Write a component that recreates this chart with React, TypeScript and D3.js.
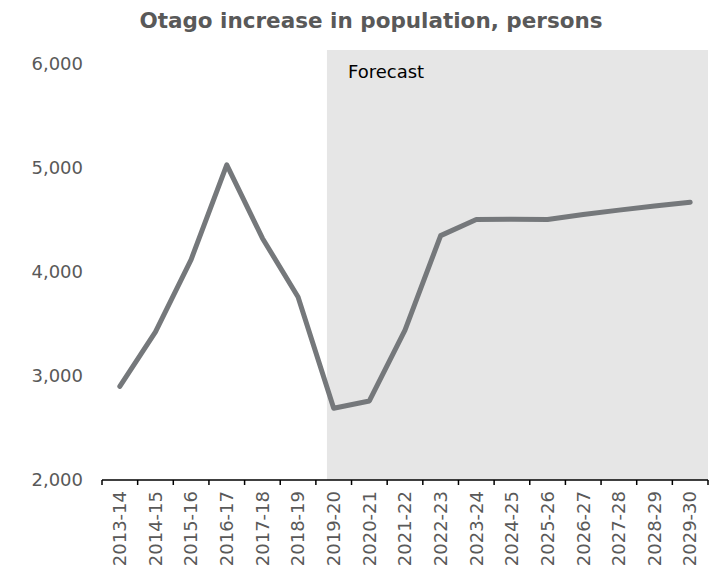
import React, { useEffect, useRef } from 'react';
import * as d3 from 'd3';

// financial years, June years
const years = ['2013-14', '2014-15', '2015-16', '2016-17', '2017-18', '2018-19', '2019-20', '2020-21',
  '2021-22', '2022-23', '2023-24', '2024-25', '2025-26', '2026-27', '2027-28', '2028-29', '2029-30'];
const increase = [2900, 3425, 4120, 5030, 4325, 3760, 2690, 2760,
  3440, 4350, 4505, 4508, 4504, 4552, 4595, 4635, 4670];
const yTicks = [2000, 3000, 4000, 5000, 6000];
const forecastFrom = '2019-20';

const W = 722, H = 571;
const FONT = '"DejaVu Sans", Verdana, sans-serif';

export default function App() {
  const ref = useRef<SVGSVGElement>(null);

  useEffect(() => {
    const svg = d3.select(ref.current);
    svg.selectAll('*').remove();

    const x = d3.scaleBand().domain(years).range([102, 708]);
    const y = d3.scaleLinear().domain([2000, 6000]).range([480, 64]);
    const bw = x.bandwidth();

    // forecast shading
    const sx = x(forecastFrom)! + bw * 0.31;
    svg.append('rect')
      .attr('x', sx)
      .attr('y', y(6000) - 14)
      .attr('width', x.range()[1] - sx)
      .attr('height', y(2000) - y(6000) + 14)
      .attr('fill', '#e6e6e6');

    svg.append('text')
      .attr('x', 348).attr('y', 78)
      .attr('font-family', FONT).attr('font-size', 18)
      .attr('fill', '#000')
      .text('Forecast');

    // title
    svg.append('text')
      .attr('x', 371).attr('y', 28)
      .attr('text-anchor', 'middle')
      .attr('font-family', FONT).attr('font-size', 21.5).attr('font-weight', 'bold')
      .attr('fill', '#595959')
      .text('Otago increase in population, persons');

    // y labels
    svg.append('g').selectAll('text').data(yTicks).join('text')
      .attr('x', 83).attr('y', d => y(d))
      .attr('dy', '0.35em')
      .attr('text-anchor', 'end')
      .attr('font-family', FONT).attr('font-size', 18)
      .attr('fill', '#595959')
      .text(d => d3.format(',')(d));

    // x axis
    const xa = svg.append('g');
    xa.append('line')
      .attr('x1', x.range()[0]).attr('x2', x.range()[1])
      .attr('y1', y(2000)).attr('y2', y(2000))
      .attr('stroke', '#000').attr('stroke-width', 1.5);
    const edges = years.map(d => x(d)!).concat([x.range()[1]]);
    xa.selectAll('line.tick').data(edges).join('line')
      .attr('class', 'tick')
      .attr('x1', d => d).attr('x2', d => d)
      .attr('y1', y(2000)).attr('y2', y(2000) + 5)
      .attr('stroke', '#000').attr('stroke-width', 1.5);
    xa.selectAll('text').data(years).join('text')
      .attr('transform', d => `translate(${x(d)! + bw / 2},491) rotate(-90)`)
      .attr('dy', '0.35em')
      .attr('text-anchor', 'end')
      .attr('font-family', FONT).attr('font-size', 18)
      .attr('fill', '#595959')
      .text(d => d);

    // line
    const line = d3.line<number>()
      .x((_, i) => x(years[i])! + bw / 2)
      .y(d => y(d));
    svg.append('path')
      .datum(increase)
      .attr('d', line)
      .attr('fill', 'none')
      .attr('stroke', '#75787b')
      .attr('stroke-width', 5)
      .attr('stroke-linejoin', 'round')
      .attr('stroke-linecap', 'round');
  }, []);

  return (
    <svg ref={ref} width={W} height={H}
      style={{ position: 'absolute', left: 0, top: 0, background: '#fff' }} />
  );
}
